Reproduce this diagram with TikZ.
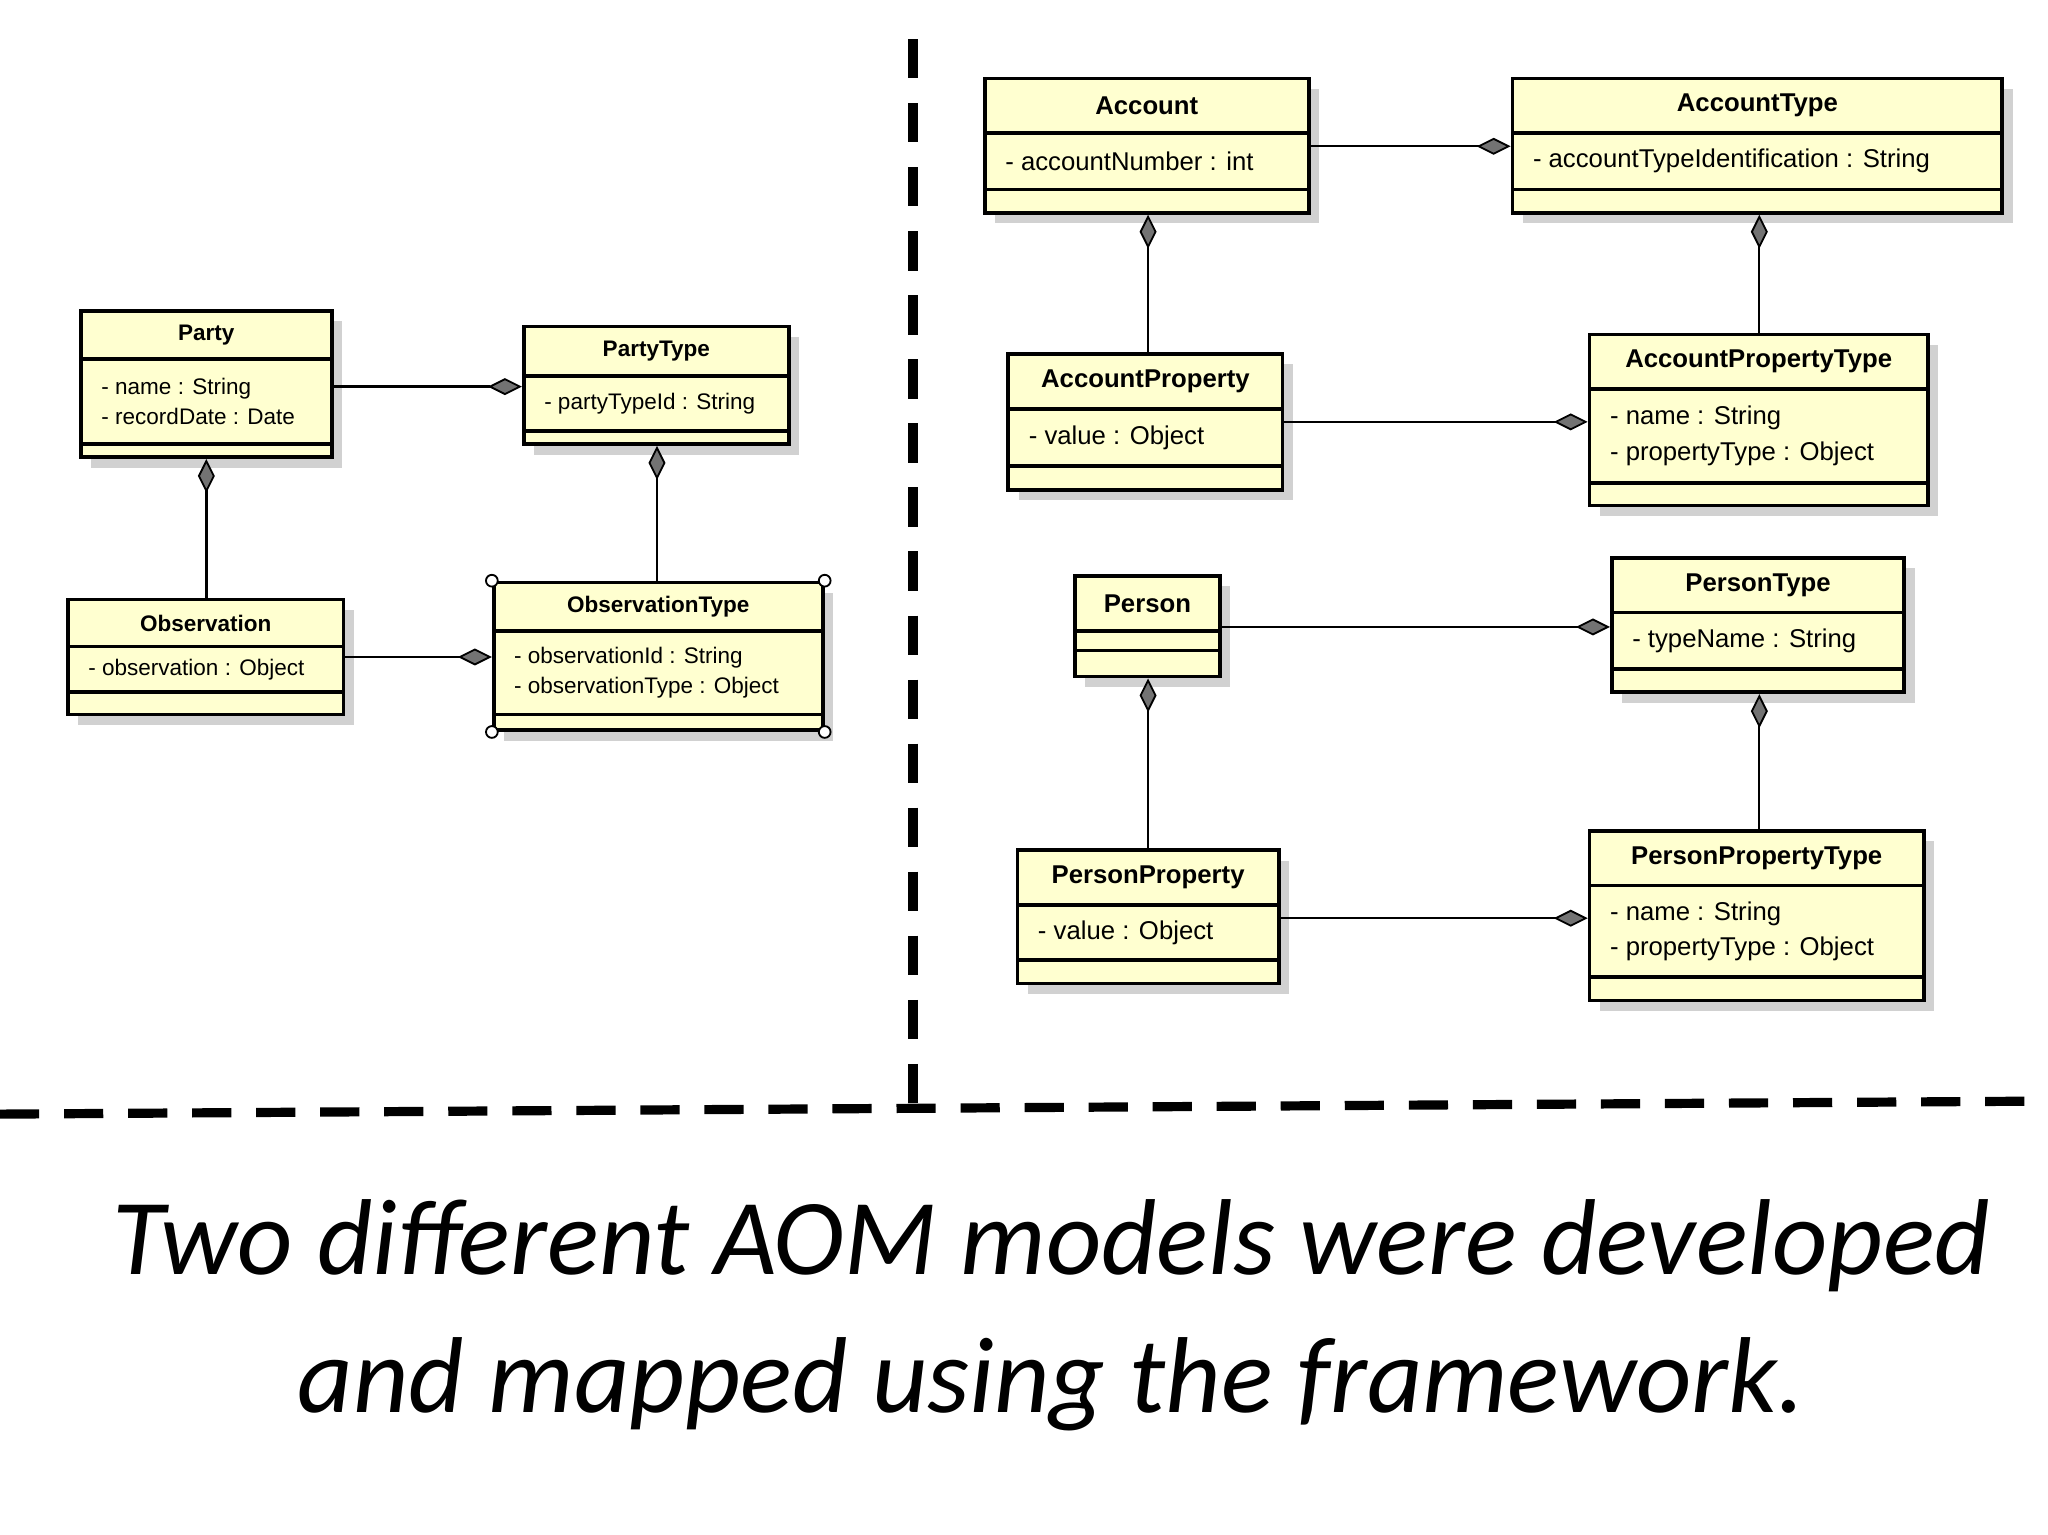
\documentclass[tikz,border=0pt]{standalone}
\usepackage{fontspec}
\setmainfont{Liberation Sans}
\newfontfamily\capfont{Carlito}
\usetikzlibrary{arrows.meta}
\definecolor{boxfill}{RGB}{255,255,208}
\tikzset{
  umlbox/.style={draw=black, line width=0.8pt, fill=boxfill, inner sep=0pt},
  shadowc/.style={fill=black!18},
  ttl/.style={font=\fontsize{\fsz}{\fsz}\selectfont\bfseries, inner sep=0pt},
  att/.style={font=\fontsize{\fsz}{\fszl}\selectfont, align=left, anchor=west, inner sep=0pt},
  conn/.style={draw=black, line width=0.5pt},
  dia/.style={-{Diamond[fill=black!55, length=0.26cm, width=0.13cm, line width=0.4pt]}},
  aid/.style={{Diamond[fill=black!55, length=0.26cm, width=0.13cm, line width=0.4pt]}-},
  sep/.style={line width=2pt, dash pattern=on 0.3cm off 0.19cm},
  handle/.style={circle, draw, fill=white, inner sep=0pt, minimum size=0.09cm, line width=0.4pt}
}
\def\fsz{5pt}\def\fszl{6.5pt}
% name, x1, y1, x2, y2, d1, d2, title, attrs
\newcommand\umlcls[9]{%
  \fill[shadowc] ({#2+8},{#3+8}) rectangle ({#4+8},{#5+8});
  \pgfmathsetmacro\bw{(#4-#2)*0.01}\pgfmathsetmacro\bh{(#5-#3)*0.01}%
  \node[umlbox, minimum width=\bw cm, minimum height=\bh cm] (#1) at ({(#2+#4)/2},{(#3+#5)/2}) {};
  \draw[line width=0.8pt] (#2,#6) -- (#4,#6);
  \draw[line width=0.8pt] (#2,#7) -- (#4,#7);
  \node[ttl] (#1-t) at ({(#2+#4)/2},{(#3+#6)/2}) {#8};
  \node[att] (#1-a) at ({#2+15},{(#6+#7)/2}) {#9};
}
\begin{document}
\begin{tikzpicture}[x=0.01cm,y=-0.01cm]
\useasboundingbox (0,0) rectangle (1568,1175);
\fill[white] (0,0) rectangle (1568,1175);
% left model
\def\fsz{4.9pt}\def\fszl{6.4pt}
\umlcls{Party}{62}{238}{254}{350}{275}{340}{Party}{- name : String\\- recordDate : Date}
\umlcls{PartyType}{401}{250}{604}{340}{288}{330}{PartyType}{- partyTypeId : String}
\umlcls{Observation}{52}{459}{263}{547}{495}{530}{Observation}{- observation : Object}
\umlcls{ObservationType}{378}{446}{630}{559}{483}{547}{ObservationType}{- observationId : String\\- observationType : Object}
\foreach \c in {north west, north east, south west, south east}
  \node[handle] at (ObservationType.\c) {};
% right model
\def\fsz{5.6pt}\def\fszl{7.8pt}
\umlcls{Account}{754}{60}{1002}{163}{102}{145}{Account}{- accountNumber : int}
\umlcls{AccountType}{1158}{60}{1533}{163}{102}{145}{AccountType}{- accountTypeIdentification : String}
\umlcls{AccountProperty}{772}{271}{982}{375}{313}{357}{AccountProperty}{- value : Object}
\umlcls{AccountPropertyType}{1217}{256}{1476}{387}{298}{370}{AccountPropertyType}{- name : String\\- propertyType : Object}
\umlcls{Person}{823}{441}{934}{518}{483}{498}{Person}{}
\umlcls{PersonType}{1234}{427}{1458}{530}{469}{512}{PersonType}{- typeName : String}
\umlcls{PersonProperty}{779}{651}{979}{753}{693}{735}{PersonProperty}{- value : Object}
\umlcls{PersonPropertyType}{1217}{636}{1473}{766}{678}{748}{PersonPropertyType}{- name : String\\- propertyType : Object}
% connectors
\draw[conn,dia] (Party.east |- 0,296) -- (PartyType.west |- 0,296);
\draw[conn,aid] (Party.south -| 158,0) -- (Observation.north -| 158,0);
\draw[conn,aid] (PartyType.south -| 503,0) -- (ObservationType.north -| 503,0);
\draw[conn,dia] (Observation.east |- 0,503) -- (ObservationType.west |- 0,503);
\draw[conn,dia] (Account.east |- 0,112) -- (AccountType.west |- 0,112);
\draw[conn,aid] (Account.south -| 879,0) -- (AccountProperty.north -| 879,0);
\draw[conn,aid] (AccountType.south -| 1347,0) -- (AccountPropertyType.north -| 1347,0);
\draw[conn,dia] (AccountProperty.east |- 0,323) -- (AccountPropertyType.west |- 0,323);
\draw[conn,dia] (Person.east |- 0,480) -- (PersonType.west |- 0,480);
\draw[conn,aid] (Person.south -| 879,0) -- (PersonProperty.north -| 879,0);
\draw[conn,aid] (PersonType.south -| 1347,0) -- (PersonPropertyType.north -| 1347,0);
\draw[conn,dia] (PersonProperty.east |- 0,703) -- (PersonPropertyType.west |- 0,703);
% separators
\coordinate (vt) at (699,30);
\coordinate (vb) at (699,850);
\coordinate (hl) at (0,853);
\coordinate (hr) at (1568,843);
\draw[sep] (vt) -- (vb);
\draw[sep] (hl) -- (hr);
% caption
\node[font=\capfont\itshape\fontsize{23.5pt}{28pt}\selectfont, align=center] (cap) at (805,1007)
  {Two different AOM models were developed\\[2pt]and mapped using the framework.};
\end{tikzpicture}
\end{document}
